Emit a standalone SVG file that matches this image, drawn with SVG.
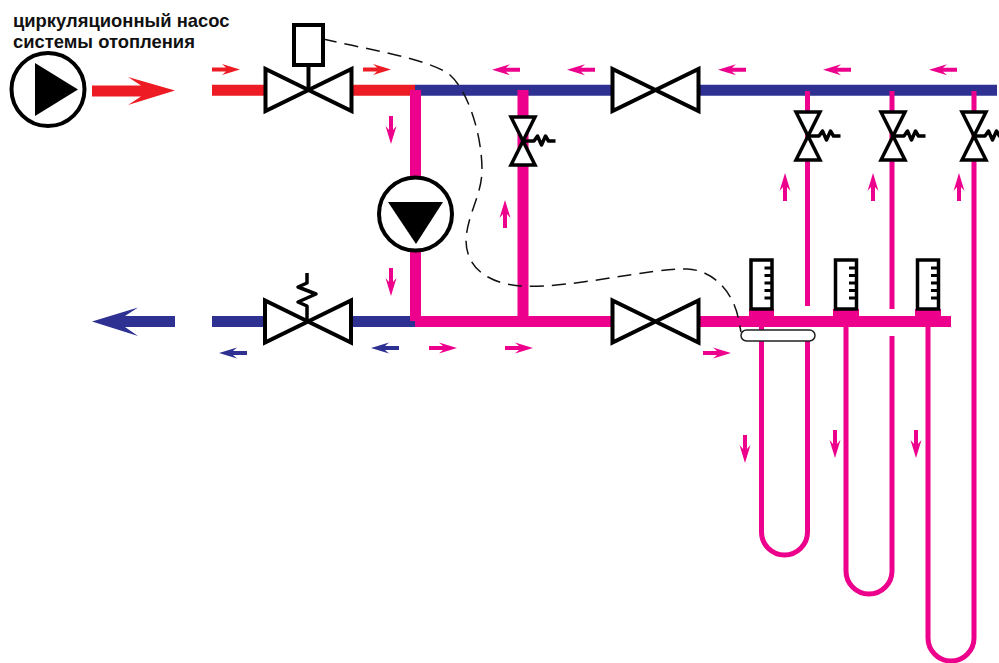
<svg xmlns="http://www.w3.org/2000/svg" xmlns:xlink="http://www.w3.org/1999/xlink" width="999" height="663" viewBox="0 0 999 663">
<style>
.pipe{fill:none;stroke-width:11}
.thin{fill:none;stroke:#EC008C;stroke-width:5}
.red{stroke:#ED1C24}.blue{stroke:#2E3192}.pink{stroke:#EC008C}
.sym{fill:#fff;stroke:#000;stroke-width:4;stroke-linejoin:miter}
.line{fill:none;stroke:#000;stroke-width:3.500;stroke-linejoin:round}
.ar-r{fill:#ED1C24}.ar-b{fill:#2E3192}.ar-p{fill:#EC008C}
text{font-family:"Liberation Sans",Arial,sans-serif;font-weight:bold;font-size:18.400px;fill:#111}
</style>
<defs>
<path id="arrow" d="M0-2H14L10-5.500 28 0 10 5.500 14 2H0Z"/>
<g id="valveH"><rect x="-12" y="-6.500" width="24" height="13" fill="#fff"/><path class="sym" d="M0 0-43-21V21ZM0 0 43-21V21Z"/></g>
<g id="valveV">
<path class="sym" style="stroke-width:3.500" d="M0 0-12-24H12ZM0 0-12 24H12Z"/>
<path class="line" d="M0 0h11l3.500-5 4 9 4-9 3 5h7"/>
</g>
<g id="gauge">
<rect class="sym" style="stroke-width:3.500" x="-10.500" y="0" width="21" height="49"/>
<path class="line" style="stroke-width:2.800;stroke-linejoin:miter" d="M10 8h-7M10 15.500h-7M10 23h-7M10 30.500h-7M10 38h-7"/>
</g>
</defs>

<g id="connectors">
<path class="pipe red" d="M212 90.300H415"/>
<path class="pipe blue" d="M415 90.300H997"/>
<path class="pipe blue" d="M212 321.500H415"/>
<path class="pipe pink" d="M415 321.500H951"/>
<path class="pipe pink" d="M415.500 90V321"/>
<path class="pipe pink" d="M523 90V321"/>
<path class="thin" d="M807.500 91V306"/>
<path class="thin" d="M892 91V309"/>
<path class="thin" d="M761.500 321V532a23 23 0 0 0 46 0V335"/>
<path class="thin" d="M846 321V571a23 23 0 0 0 46 0V336"/>
<path class="thin" d="M928 321V638a23 23 0 0 0 46 0V91"/>
<path class="ar-p" d="M749 309h25v12h-25zM833 309h26v12h-26zM915 309h26v12h-26z"/>
<path id="wire" fill="none" stroke="#111" stroke-width="1.500" stroke-dasharray="14 8" d="M323 39C370 50 425 58 449 74C468 90 482 135 482 170C482 195 467 215 466 240C466 262 480 282 520 286C570 289 650 268 687 269C715 270 735 295 739 322L741 332"/>
</g>

<g id="flow-arrows">
<path class="ar-r" d="M92 85.500H141L128 77 175 90.500 128 105 141 96.500H92Z"/>
<path class="ar-b" d="M175 316H125L138 307.500 92 321.500 138 336 125 327H175Z"/>
<use xlink:href="#arrow" class="ar-r" transform="translate(212 69.500)"/>
<use xlink:href="#arrow" class="ar-r" transform="translate(363 69.500)"/>
<use xlink:href="#arrow" class="ar-p" transform="translate(520 69.700) rotate(180)"/>
<use xlink:href="#arrow" class="ar-p" transform="translate(595 69.700) rotate(180)"/>
<use xlink:href="#arrow" class="ar-p" transform="translate(746 69.700) rotate(180)"/>
<use xlink:href="#arrow" class="ar-p" transform="translate(851 69.700) rotate(180)"/>
<use xlink:href="#arrow" class="ar-p" transform="translate(957 69.700) rotate(180)"/>
<use xlink:href="#arrow" class="ar-p" transform="translate(785 201) rotate(-90)"/>
<use xlink:href="#arrow" class="ar-p" transform="translate(873 201) rotate(-90)"/>
<use xlink:href="#arrow" class="ar-p" transform="translate(959 201) rotate(-90)"/>
<use xlink:href="#arrow" class="ar-p" transform="translate(505 228) rotate(-90)"/>
<use xlink:href="#arrow" class="ar-p" transform="translate(391 116) rotate(90)"/>
<use xlink:href="#arrow" class="ar-p" transform="translate(391 268) rotate(90)"/>
<use xlink:href="#arrow" class="ar-p" transform="translate(745 435) rotate(90)"/>
<use xlink:href="#arrow" class="ar-p" transform="translate(835 430) rotate(90)"/>
<use xlink:href="#arrow" class="ar-p" transform="translate(916 430) rotate(90)"/>
<use xlink:href="#arrow" class="ar-b" transform="translate(247 353) rotate(180)"/>
<use xlink:href="#arrow" class="ar-b" transform="translate(399 348) rotate(180)"/>
<use xlink:href="#arrow" class="ar-p" transform="translate(429 348)"/>
<use xlink:href="#arrow" class="ar-p" transform="translate(505 348)"/>
<use xlink:href="#arrow" class="ar-p" transform="translate(703 353)"/>
</g>

<g id="pump-main">
<circle cx="48" cy="89.500" r="36.500" fill="#fff" stroke="#000" stroke-width="4"/>
<path d="M35 63 78 89.500 35 116Z"/>
</g>
<g id="pump-mix">
<circle cx="415.500" cy="214" r="36.500" fill="#fff" stroke="#000" stroke-width="4"/>
<path d="M388 202H443L416 244Z"/>
</g>
<g id="valve-motor">
<use xlink:href="#valveH" transform="translate(308.500 90)"/>
<rect class="sym" x="294" y="25" width="29" height="40"/>
<path class="line" style="stroke-width:4" d="M308.500 65V90"/>
</g>
<g id="valve-top"><use xlink:href="#valveH" transform="translate(655.500 90)"/></g>
<g id="valve-bottom"><use xlink:href="#valveH" transform="translate(655.500 321.500)"/></g>
<g id="valve-return">
<use xlink:href="#valveH" transform="translate(308 321.500)"/>
<path class="line" d="M307 273V283L298 287 316 294 298 302 307 306V321"/>
</g>
<g id="valve-bypass"><use xlink:href="#valveV" transform="translate(523 141)"/></g>
<g id="valve-1"><use xlink:href="#valveV" transform="translate(808 136)"/></g>
<g id="valve-2"><use xlink:href="#valveV" transform="translate(893 136)"/></g>
<g id="valve-3"><use xlink:href="#valveV" transform="translate(974 136)"/></g>
<g id="gauge-1"><use xlink:href="#gauge" transform="translate(761.500 260)"/></g>
<g id="gauge-2"><use xlink:href="#gauge" transform="translate(846 260)"/></g>
<g id="gauge-3"><use xlink:href="#gauge" transform="translate(928 260)"/></g>
<g id="sensor"><rect x="741" y="330" width="74" height="11" rx="5.500" fill="#fff" stroke="#222" stroke-width="1.500"/></g>
<g id="label">
<text x="13" y="26.500">циркуляционный насос</text>
<text x="13" y="47.500">системы отопления</text>
</g>
</svg>
